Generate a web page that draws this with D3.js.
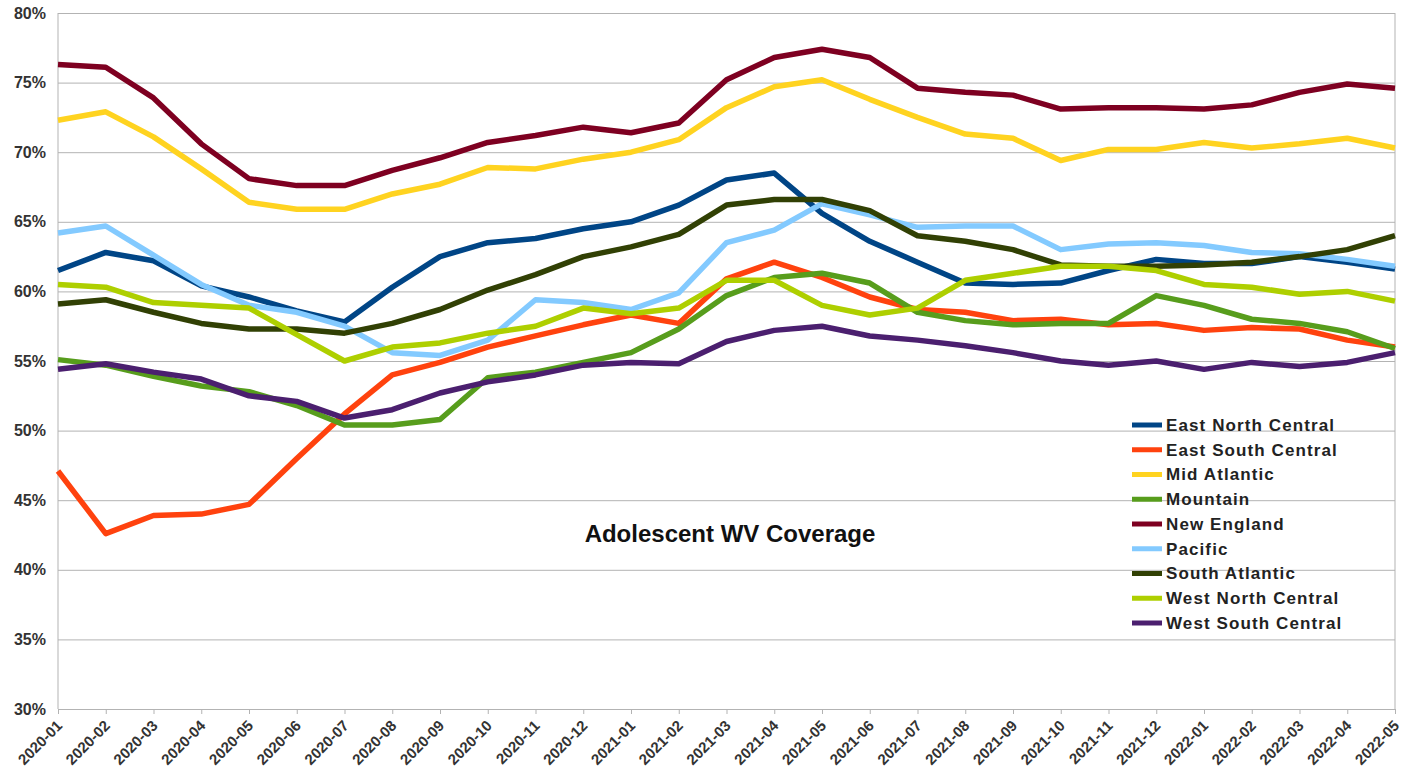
<!DOCTYPE html>
<html>
<head>
<meta charset="utf-8">
<script src="https://cdn.jsdelivr.net/npm/d3@7"></script>
<style>
  body { margin: 0; background: #fff; }
  svg { display: block; font-family: "Liberation Sans", Arial, sans-serif; }
</style>
</head>
<body>
<div id="chart"></div>
<script>
const months = [
  "2020-01","2020-02","2020-03","2020-04","2020-05","2020-06","2020-07","2020-08","2020-09","2020-10",
  "2020-11","2020-12","2021-01","2021-02","2021-03","2021-04","2021-05","2021-06","2021-07","2021-08",
  "2021-09","2021-10","2021-11","2021-12","2022-01","2022-02","2022-03","2022-04","2022-05"
];

const regions = [
  "East North Central", "East South Central", "Mid Atlantic", "Mountain", "New England",
  "Pacific", "South Atlantic", "West North Central", "West South Central"
];

const eastNorthCentral = [61.5, 62.8, 62.2, 60.4, 59.6, 58.6, 57.8, 60.3, 62.5, 63.5, 63.8, 64.5, 65.0, 66.2, 68.0, 68.5, 65.6, 63.6, 62.1, 60.6, 60.5, 60.6, 61.5, 62.3, 62.0, 62.0, 62.5, 62.1, 61.6];
const eastSouthCentral = [47.1, 42.6, 43.9, 44.0, 44.7, 48.0, 51.2, 54.0, 54.9, 56.0, 56.8, 57.6, 58.3, 57.7, 60.9, 62.1, 61.0, 59.6, 58.7, 58.5, 57.9, 58.0, 57.6, 57.7, 57.2, 57.4, 57.3, 56.5, 56.0];
const midAtlantic = [72.3, 72.9, 71.1, 68.8, 66.4, 65.9, 65.9, 67.0, 67.7, 68.9, 68.8, 69.5, 70.0, 70.9, 73.2, 74.7, 75.2, 73.8, 72.5, 71.3, 71.0, 69.4, 70.2, 70.2, 70.7, 70.3, 70.6, 71.0, 70.3];
const mountain = [55.1, 54.7, 53.9, 53.2, 52.8, 51.8, 50.4, 50.4, 50.8, 53.8, 54.2, 54.9, 55.6, 57.3, 59.7, 61.0, 61.3, 60.6, 58.5, 57.9, 57.6, 57.7, 57.7, 59.7, 59.0, 58.0, 57.7, 57.1, 55.9];
const newEngland = [76.3, 76.1, 73.9, 70.6, 68.1, 67.6, 67.6, 68.7, 69.6, 70.7, 71.2, 71.8, 71.4, 72.1, 75.2, 76.8, 77.4, 76.8, 74.6, 74.3, 74.1, 73.1, 73.2, 73.2, 73.1, 73.4, 74.3, 74.9, 74.6];
const pacific = [64.2, 64.7, 62.6, 60.5, 59.0, 58.5, 57.5, 55.6, 55.4, 56.5, 59.4, 59.2, 58.7, 59.9, 63.5, 64.4, 66.3, 65.5, 64.6, 64.7, 64.7, 63.0, 63.4, 63.5, 63.3, 62.8, 62.7, 62.3, 61.8];
const southAtlantic = [59.1, 59.4, 58.5, 57.7, 57.3, 57.3, 57.0, 57.7, 58.7, 60.1, 61.2, 62.5, 63.2, 64.1, 66.2, 66.6, 66.6, 65.8, 64.0, 63.6, 63.0, 61.9, 61.8, 61.8, 61.9, 62.1, 62.5, 63.0, 64.0];
const westNorthCentral = [60.5, 60.3, 59.2, 59.0, 58.8, 56.9, 55.0, 56.0, 56.3, 57.0, 57.5, 58.8, 58.4, 58.8, 60.8, 60.8, 59.0, 58.3, 58.8, 60.8, 61.3, 61.8, 61.8, 61.5, 60.5, 60.3, 59.8, 60.0, 59.3];
const westSouthCentral = [54.4, 54.8, 54.2, 53.7, 52.5, 52.1, 50.9, 51.5, 52.7, 53.5, 54.0, 54.7, 54.9, 54.8, 56.4, 57.2, 57.5, 56.8, 56.5, 56.1, 55.6, 55.0, 54.7, 55.0, 54.4, 54.9, 54.6, 54.9, 55.6];

const yTicks = [30, 35, 40, 45, 50, 55, 60, 65, 70, 75, 80];

const colours = {
  "East North Central": "#004586",
  "East South Central": "#ff420e",
  "Mid Atlantic": "#ffd320",
  "Mountain": "#579d1c",
  "New England": "#7e0021",
  "Pacific": "#83caff",
  "South Atlantic": "#314004",
  "West North Central": "#aecf00",
  "West South Central": "#4b1f6f"
};

const values = [eastNorthCentral, eastSouthCentral, midAtlantic, mountain, newEngland,
  pacific, southAtlantic, westNorthCentral, westSouthCentral];
const series = regions.map((name, i) => ({ name, values: values[i] }));

const size = { width: 1401, height: 776, left: 58, right: 1395, top: 13, bottom: 709 };

const x = d3.scalePoint().domain(months).range([size.left, size.right]);
const y = d3.scaleLinear().domain([30, 80]).range([size.bottom, size.top]);

const svg = d3.select("#chart").append("svg")
  .attr("width", size.width)
  .attr("height", size.height);

// grid + y labels
const yAxis = svg.append("g")
  .attr("transform", `translate(${size.left},0)`)
  .call(d3.axisLeft(y).tickValues(yTicks).tickSize(-(size.right - size.left)).tickPadding(12).tickFormat(d => d + "%"));
yAxis.select(".domain").remove();
yAxis.selectAll("line").attr("stroke", "#b3b3b3");
yAxis.selectAll("text")
  .style("font-size", "16px").style("font-weight", "bold").attr("fill", "#333");

// frame verticals
svg.append("line").attr("x1", size.left).attr("x2", size.left)
  .attr("y1", size.top).attr("y2", size.bottom).attr("stroke", "#b3b3b3");
svg.append("line").attr("x1", size.right).attr("x2", size.right)
  .attr("y1", size.top).attr("y2", size.bottom).attr("stroke", "#b3b3b3");

const xAxis = svg.append("g")
  .attr("transform", `translate(0,${size.bottom})`)
  .call(d3.axisBottom(x).tickSize(5));
xAxis.select(".domain").attr("stroke", "#b3b3b3");
xAxis.selectAll("line").attr("stroke", "#b3b3b3");
xAxis.selectAll("text")
  .style("font-size", "15px").style("font-weight", "bold").attr("fill", "#333")
  .attr("text-anchor", "end")
  .attr("x", 0).attr("y", 0)
  .attr("dy", "0.35em")
  .attr("transform", "translate(1,14) rotate(-45)");

const line = d3.line().x((d, i) => x(months[i])).y(d => y(d));

svg.append("g").selectAll("path")
  .data(series)
  .join("path")
  .attr("d", d => line(d.values))
  .attr("fill", "none")
  .attr("stroke", d => colours[d.name])
  .attr("stroke-width", 5.5)
  .attr("stroke-linejoin", "round");

// title
svg.append("text")
  .attr("x", 730).attr("y", 542)
  .attr("text-anchor", "middle")
  .style("font-size", "24px").style("font-weight", "bold")
  .attr("fill", "#111")
  .text("Adolescent WV Coverage");

// legend
const legend = svg.append("g").attr("transform", "translate(1132,425)");
const item = legend.selectAll("g").data(series).join("g")
  .attr("transform", (d, i) => `translate(0,${i * 24.75})`);
item.append("line")
  .attr("x1", 0).attr("x2", 30)
  .attr("stroke", d => colours[d.name]).attr("stroke-width", 5);
item.append("text")
  .attr("x", 34).attr("dy", "0.35em")
  .style("font-size", "17px").style("font-weight", "bold")
  .style("letter-spacing", "1.1px")
  .attr("fill", "#222")
  .text(d => d.name);
</script>
</body>
</html>
